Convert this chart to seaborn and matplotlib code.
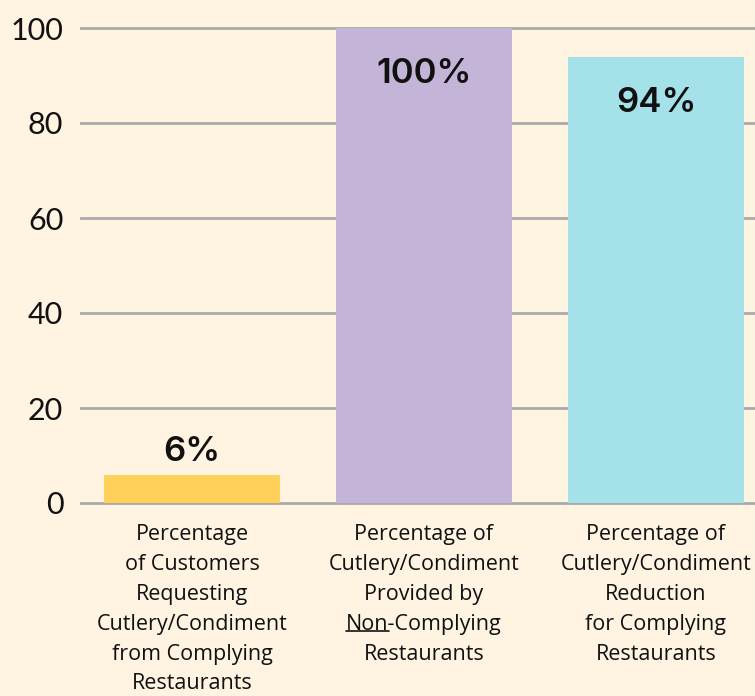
import matplotlib
matplotlib.use("Agg")
import matplotlib.pyplot as plt
from matplotlib.lines import Line2D
import seaborn as sns
import pandas as pd

# data
categories = [
    "Percentage\nof Customers\nRequesting\nCutlery/Condiment\nfrom Complying\nRestaurants",
    "Percentage of\nCutlery/Condiment\nProvided by\nNon-Complying\nRestaurants",
    "Percentage of\nCutlery/Condiment\nReduction\nfor Complying\nRestaurants",
]
values = [6, 100, 94]
value_labels = ["6%", "100%", "94%"]
bar_colors = ["#FFD159", "#C4B5D8", "#A5E1E8"]
yticks = [0, 20, 40, 60, 80, 100]

bg = "#FFF4E2"
sns.set_style("white")
plt.rcParams["font.family"] = ["Lato", "DejaVu Sans"]

df = pd.DataFrame({"category": categories, "value": values})

W, H = 755, 696
fig = plt.figure(figsize=(W / 100, H / 100), dpi=100, facecolor=bg)
ppu = 4.75  # pixels per y unit
ax = fig.add_axes([80 / W, (696 - 503 - ppu) / H, (W - 80) / W, (475 + 2 * ppu) / H])
ax.set_facecolor(bg)

sns.barplot(data=df, x="category", y="value", hue="category", palette=bar_colors,
            width=0.76, saturation=1, legend=False, ax=ax, zorder=3,
            edgecolor="none", linewidth=0)

lab_font = 15.5
lab_family = "Open Sans"
lab_spacing = 1.55

ax.set_xlim(-0.483, 2.427)
ax.set_ylim(-1, 101)
ax.set_yticks(yticks)
ax.set_yticklabels([str(t) for t in yticks], fontsize=22, fontfamily="Lato",
                   color="#111111")
ax.yaxis.grid(True, color="#AAAAAA", linewidth=2)
ax.set_axisbelow(True)
ax.tick_params(axis="both", length=0)
ax.tick_params(axis="y", pad=12)
ax.tick_params(axis="x", pad=12)
ax.set_xticks(range(len(categories)))
ax.set_xticklabels(categories, fontsize=lab_font, fontfamily=lab_family,
                   linespacing=lab_spacing, color="#111111")
ax.set_xlabel("")
ax.set_ylabel("")
for s in ax.spines.values():
    s.set_visible(False)

for i, v in enumerate(values):
    y = v + 4.8 if v < 20 else v - 9.7
    ax.text(i, y, value_labels[i], ha="center", va="center", fontsize=25,
            fontfamily="Inter", fontweight="semibold", color="#111111", zorder=5)

# underline "Non" in the middle category label
fig.canvas.draw()
r = fig.canvas.get_renderer()
lab = ax.get_xticklabels()[1]
bb = lab.get_window_extent(r)
nlines = len(categories[1].split("\n"))
line_h = bb.height / nlines
full = fig.text(0, 0, "Non-Complying", fontsize=lab_font, fontfamily=lab_family)
part = fig.text(0, 0, "Non", fontsize=lab_font, fontfamily=lab_family)
fw = full.get_window_extent(r).width
pw = part.get_window_extent(r).width
full.remove()
part.remove()
cx = (bb.x0 + bb.x1) / 2
x0 = cx - fw / 2
yb = bb.y0 + line_h * 1 + line_h * 0.2
fig.add_artist(Line2D([x0 / W, (x0 + pw) / W], [yb / H, yb / H], color="#111111",
                      linewidth=1.2, transform=fig.transFigure))

fig.savefig("out.png", dpi=100, facecolor=bg)
